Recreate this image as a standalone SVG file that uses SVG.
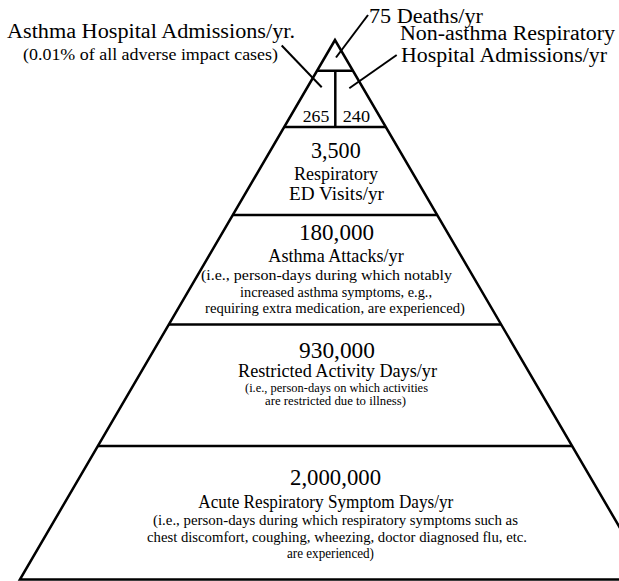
<svg xmlns="http://www.w3.org/2000/svg" width="619" height="581" viewBox="0 0 619 581">
<style>
.ln{stroke:#000;stroke-width:2.5;fill:none;stroke-linecap:butt}
.ld{stroke:#000;stroke-width:2;fill:none}
text{font-family:"Liberation Serif","Times New Roman",serif;fill:#000}
.big{font-size:22.5px}
.lab{font-size:20px}
.mid{font-size:18px}
.sm{font-size:14.5px}
.xs{font-size:12.5px}
</style>
<rect width="619" height="581" fill="#fff"/>
<g id="pyramid">
<polygon class="ln" points="335,40 19.9,579.5 650.1,579.5"/>
</g>
<g id="tier-deaths">
<line class="ln" x1="317.1" y1="70.7" x2="352.9" y2="70.7"/>
<text class="lab" x="369" y="22.5" textLength="114" lengthAdjust="spacingAndGlyphs">75 Deaths/yr</text>
</g>
<g id="tier-asthma-hosp">
<line class="ln" x1="284.2" y1="127" x2="385.8" y2="127"/>
<line class="ln" x1="335.3" y1="70.7" x2="335.3" y2="127"/>
<text x="302.7" y="121.7" font-size="17.5" textLength="26.6" lengthAdjust="spacingAndGlyphs">265</text>
<text class="lab" x="7" y="38" textLength="288" lengthAdjust="spacingAndGlyphs">Asthma Hospital Admissions/yr.</text>
<text x="23" y="60" font-size="16.5" textLength="255" lengthAdjust="spacingAndGlyphs">(0.01% of all adverse impact cases)</text>
</g>
<g id="tier-resp-hosp">
<text x="342.7" y="121.7" font-size="17.5" textLength="27.3" lengthAdjust="spacingAndGlyphs">240</text>
<text class="lab" x="400" y="40" textLength="215" lengthAdjust="spacingAndGlyphs">Non-asthma Respiratory</text>
<text class="lab" x="401" y="61.5" textLength="206" lengthAdjust="spacingAndGlyphs">Hospital Admissions/yr</text>
</g>
<g id="tier-ed">
<line class="ln" x1="232.8" y1="215" x2="437.2" y2="215"/>
<text class="big" x="311" y="157.7" textLength="49.7" lengthAdjust="spacingAndGlyphs">3,500</text>
<text class="mid" x="294" y="180" textLength="84" lengthAdjust="spacingAndGlyphs">Respiratory</text>
<text class="mid" x="289" y="200" textLength="95" lengthAdjust="spacingAndGlyphs">ED Visits/yr</text>
</g>
<g id="tier-attacks">
<line class="ln" x1="168.9" y1="324.5" x2="501.1" y2="324.5"/>
<text class="big" x="299" y="240" textLength="75" lengthAdjust="spacingAndGlyphs">180,000</text>
<text class="mid" x="268.3" y="261.7" textLength="135.4" lengthAdjust="spacingAndGlyphs">Asthma Attacks/yr</text>
<text class="sm" x="201" y="280" textLength="251" lengthAdjust="spacingAndGlyphs">(i.e., person-days during which notably</text>
<text class="sm" x="240" y="296.7" textLength="192" lengthAdjust="spacingAndGlyphs">increased asthma symptoms, e.g.,</text>
<text class="sm" x="205" y="313" textLength="260" lengthAdjust="spacingAndGlyphs">requiring extra medication, are experienced)</text>
</g>
<g id="tier-restricted">
<line class="ln" x1="97.9" y1="446" x2="572.1" y2="446"/>
<text class="big" x="299" y="357.5" textLength="76" lengthAdjust="spacingAndGlyphs">930,000</text>
<text class="mid" x="238" y="376.7" textLength="199" lengthAdjust="spacingAndGlyphs">Restricted Activity Days/yr</text>
<text class="xs" x="245" y="391.5" textLength="183" lengthAdjust="spacingAndGlyphs">(i.e., person-days on which activities</text>
<text class="xs" x="265" y="404.5" textLength="141" lengthAdjust="spacingAndGlyphs">are restricted due to illness)</text>
</g>
<g id="tier-symptom">
<text class="big" x="290" y="485" textLength="91" lengthAdjust="spacingAndGlyphs">2,000,000</text>
<text class="mid" x="198.3" y="507.5" textLength="255" lengthAdjust="spacingAndGlyphs">Acute Respiratory Symptom Days/yr</text>
<text class="sm" x="153" y="525" textLength="365" lengthAdjust="spacingAndGlyphs">(i.e., person-days during which respiratory symptoms such as</text>
<text class="sm" x="147" y="541.5" textLength="380" lengthAdjust="spacingAndGlyphs">chest discomfort, coughing, wheezing, doctor diagnosed flu, etc.</text>
<text class="sm" x="287" y="558" textLength="87" lengthAdjust="spacingAndGlyphs">are experienced)</text>
</g>
<g id="connectors">
<line class="ld" x1="281.7" y1="45.5" x2="321.7" y2="87.3"/>
<line class="ld" x1="368" y1="15" x2="336" y2="57.5"/>
<line class="ld" x1="396.7" y1="55" x2="349.3" y2="88.3"/>
</g>
</svg>
